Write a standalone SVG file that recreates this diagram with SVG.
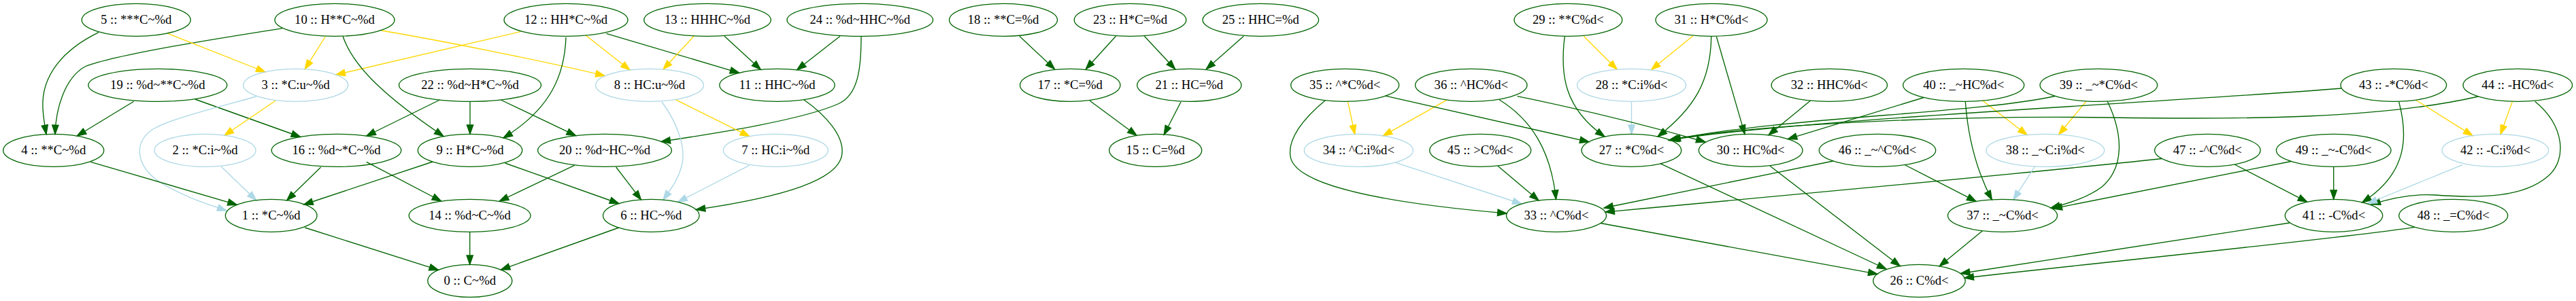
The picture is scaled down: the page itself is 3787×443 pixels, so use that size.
<svg xmlns="http://www.w3.org/2000/svg" width="3787" height="443" viewBox="0 0 3787 443">
<defs>
<style>
.n ellipse{fill:none;stroke-width:1.33}
.g ellipse{stroke:#006400}
.b ellipse{stroke:#add8e6}
text{font-family:"Liberation Serif","Times New Roman",serif;font-size:18.67px;text-anchor:middle;fill:#000}
#edges path{fill:none;stroke-width:1.33}
#edges .eg{stroke:#006400;marker-end:url(#ag)}
#edges .ey{stroke:#ffd700;marker-end:url(#ay)}
#edges .eb{stroke:#add8e6;marker-end:url(#ab)}
</style>
<marker id="ag" viewBox="-1 -1 16 12" refX="13.33" refY="5" markerWidth="16" markerHeight="12" markerUnits="userSpaceOnUse" orient="auto" overflow="visible"><path d="M0,0.33 L13.33,5 L0,9.67 z" fill="#006400" stroke="#006400" stroke-width="1.33"/></marker>
<marker id="ay" viewBox="-1 -1 16 12" refX="13.33" refY="5" markerWidth="16" markerHeight="12" markerUnits="userSpaceOnUse" orient="auto" overflow="visible"><path d="M0,0.33 L13.33,5 L0,9.67 z" fill="#ffd700" stroke="#ffd700" stroke-width="1.33"/></marker>
<marker id="ab" viewBox="-1 -1 16 12" refX="13.33" refY="5" markerWidth="16" markerHeight="12" markerUnits="userSpaceOnUse" orient="auto" overflow="visible"><path d="M0,0.33 L13.33,5 L0,9.67 z" fill="#add8e6" stroke="#add8e6" stroke-width="1.33"/></marker>
</defs>
<rect x="0" y="0" width="3787" height="443" fill="#ffffff"/>
<g id="edges">
<path class="eg" d="M145,47.7 C95,72 60,110 63,160 C64,176 66,186 68,197.6"/>
<path class="eg" d="M415,41.7 C330,55 170,80 125,98 C95,115 82,160 81,197.5"/>
<path class="ey" d="M246.7,49.3 L390,106"/>
<path class="ey" d="M478.3,54 L448.3,101.7"/>
<path class="ey" d="M764.9,46.7 L494,110"/>
<path class="ey" d="M561,45 C650,60 800,90 889,111.5"/>
<path class="eg" d="M504,53.3 C520,100 570,145 652,200.5"/>
<path class="eg" d="M832,55 C830,110 810,160 740,203"/>
<path class="ey" d="M860.8,51.7 L926,103"/>
<path class="eg" d="M891.4,49.3 L1086.7,107.3"/>
<path class="ey" d="M1020,53.3 L975,102"/>
<path class="eg" d="M1065,53.3 L1118.3,102.3"/>
<path class="eg" d="M1235,53.3 L1171.7,102.8"/>
<path class="eg" d="M1266,54 C1266,100 1262,140 1232,153 C1180,176 1060,195 972,208.4"/>
<path class="eg" d="M196.7,149.3 L113.3,200"/>
<path class="eg" d="M286.7,146 L441.7,201.5"/>
<path class="ey" d="M405,148.3 L330,199.3"/>
<path class="eb" d="M376.7,142 C320,158 250,175 225,190 C195,210 200,245 235,268 C270,290 310,302 333,310"/>
<path class="eg" d="M646.5,147 L538.8,200"/>
<path class="eg" d="M691,149.3 L691,197.3"/>
<path class="eg" d="M736.3,147 L846.5,199.7"/>
<path class="ey" d="M993.3,146.7 L1101.7,200.6"/>
<path class="eb" d="M973,150 C995,180 1008,215 1003,240 C999,262 985,280 975,294"/>
<path class="eg" d="M1181.7,146.7 C1215,170 1240,200 1238,225 C1236,265 1150,290 1023.3,308.5"/>
<path class="eb" d="M1101.7,243.3 L996.7,297.3"/>
<path class="eg" d="M133.3,238.3 L348.3,301.4"/>
<path class="eb" d="M325,245 L376.7,294.7"/>
<path class="eg" d="M471.7,246 L421.7,294.8"/>
<path class="eg" d="M636.3,238 L446.7,301"/>
<path class="eg" d="M538.8,238.3 L648.6,296"/>
<path class="eg" d="M844.5,243.3 L734.3,296"/>
<path class="eg" d="M742.4,240 L909.8,299.5"/>
<path class="eg" d="M905.7,246 L942.4,293.9"/>
<path class="eg" d="M448.3,335 L644.5,397.3"/>
<path class="eg" d="M690.7,341.3 L690.7,389.3"/>
<path class="eg" d="M909.8,335 L736.3,397"/>
<path class="eg" d="M1498.8,53.3 L1550.4,101.7"/>
<path class="eg" d="M1640.4,53.3 L1596.3,101.7"/>
<path class="eg" d="M1682.4,53.3 L1727.6,101.7"/>
<path class="eg" d="M1828.3,53.3 L1773.3,101.7"/>
<path class="eg" d="M1602.1,148.3 L1671,199.3"/>
<path class="eg" d="M1736,150 L1711.2,198.3"/>
<path class="ey" d="M2328.2,53.3 L2377.2,102.2"/>
<path class="eg" d="M2300.3,53.3 C2293,110 2300,160 2359,201"/>
<path class="ey" d="M2488.9,52.7 L2427.7,102.5"/>
<path class="eg" d="M2515.7,54 C2515,120 2490,160 2437,201"/>
<path class="eg" d="M2523.4,54 L2565,197.4"/>
<path class="eb" d="M2398.5,149.3 L2398.5,197.3"/>
<path class="eg" d="M2661.7,148 L2600,198.8"/>
<path class="ey" d="M1981.5,149.3 L1991.7,197.5"/>
<path class="ey" d="M2126.7,147.3 L2033.3,199.9"/>
<path class="eg" d="M1948.3,147.7 C1915,175 1893,205 1897,230 C1903,275 2050,300 2215,314"/>
<path class="eg" d="M2036.7,141.2 L2336,208.8"/>
<path class="eg" d="M2204,146.7 C2250,175 2280,220 2287.5,293.3"/>
<path class="eg" d="M2230.6,141.7 C2330,162 2430,187 2507,209"/>
<path class="eb" d="M2051.7,239.3 L2237,300"/>
<path class="eg" d="M2201.7,244 L2262,295"/>
<path class="eg" d="M2695,237 L2358,306"/>
<path class="eg" d="M3178,233.5 C2950,258 2600,290 2360,312"/>
<path class="eg" d="M2800,242.5 L2905,296.3"/>
<path class="eg" d="M2828.3,143.5 L2628.3,204.6"/>
<path class="ey" d="M2915,148.3 L2980,198.5"/>
<path class="eg" d="M2889.3,149.3 C2893,200 2905,250 2928.3,294"/>
<path class="ey" d="M3066.7,149.3 L3026.7,197.9"/>
<path class="eg" d="M3098.3,149.5 C3120,195 3125,245 3090,275 C3070,290 3045,298 3015,306"/>
<path class="eg" d="M3021,141.5 C2900,168 2620,172 2453,206.5"/>
<path class="eg" d="M3442,130 C3200,150 2650,175 2455,206"/>
<path class="eg" d="M3643.3,142 C3500,175 3300,176 3100,173 C2900,170 2600,180 2457,205.5"/>
<path class="ey" d="M3551.7,147.3 L3635,199.6"/>
<path class="ey" d="M3693.3,150 L3676,197.5"/>
<path class="eg" d="M3526.7,150 C3540,200 3540,255 3472.7,297.8"/>
<path class="eg" d="M3726.7,149.3 C3770,185 3775,235 3745,260 C3710,290 3650,292 3580,287 C3550,285 3520,290 3486,301"/>
<path class="eb" d="M3620,242.7 L3481,299.5"/>
<path class="eg" d="M3430.7,245.3 L3430.7,293.3"/>
<path class="eg" d="M3368.3,237.5 L3018,307"/>
<path class="eg" d="M3285,242 L3391.7,297.2"/>
<path class="eb" d="M2991.5,245 L2959.9,293.8"/>
<path class="eg" d="M2441.1,240.8 L2773,396"/>
<path class="eg" d="M2601.8,244 L2793.2,391.5"/>
<path class="eg" d="M2353.1,328.5 L2760,403.3"/>
<path class="eg" d="M2914.4,339.7 L2851.2,391.8"/>
<path class="eg" d="M3366,328 L2882.5,402.5"/>
<path class="eg" d="M3550,334.3 C3450,350 3100,385 2888,409"/>
</g>
<g id="n0" class="n g"><ellipse cx="690.8" cy="413.33" rx="62" ry="24"/><text x="690.8" y="419.3">0 :: C~%d</text></g>
<g id="n1" class="n g"><ellipse cx="398.7" cy="317.33" rx="67.3" ry="24"/><text x="398.7" y="323.3">1 :: *C~%d</text></g>
<g id="n2" class="n b"><ellipse cx="301.5" cy="221.33" rx="74.5" ry="24"/><text x="301.5" y="227.3">2 :: *C:i~%d</text></g>
<g id="n3" class="n b"><ellipse cx="434.7" cy="125.33" rx="77" ry="24"/><text x="434.7" y="131.3">3 :: *C:u~%d</text></g>
<g id="n4" class="n g"><ellipse cx="78.7" cy="221.33" rx="74" ry="24"/><text x="78.7" y="227.3">4 :: **C~%d</text></g>
<g id="n5" class="n g"><ellipse cx="200.2" cy="29.33" rx="80" ry="24"/><text x="200.2" y="35.3">5 :: ***C~%d</text></g>
<g id="n6" class="n g"><ellipse cx="957.3" cy="317.33" rx="70.8" ry="24"/><text x="957.3" y="323.3">6 :: HC~%d</text></g>
<g id="n7" class="n b"><ellipse cx="1140.3" cy="221.33" rx="77" ry="24"/><text x="1140.3" y="227.3">7 :: HC:i~%d</text></g>
<g id="n8" class="n b"><ellipse cx="955" cy="125.33" rx="79.4" ry="24"/><text x="955" y="131.3">8 :: HC:u~%d</text></g>
<g id="n9" class="n g"><ellipse cx="691" cy="221.33" rx="76.7" ry="24"/><text x="691" y="227.3">9 :: H*C~%d</text></g>
<g id="n10" class="n g"><ellipse cx="492" cy="29.33" rx="88" ry="24"/><text x="492" y="35.3">10 :: H**C~%d</text></g>
<g id="n11" class="n g"><ellipse cx="1142.5" cy="125.33" rx="84.7" ry="24"/><text x="1142.5" y="131.3">11 :: HHC~%d</text></g>
<g id="n12" class="n g"><ellipse cx="832" cy="29.33" rx="91" ry="24"/><text x="832" y="35.3">12 :: HH*C~%d</text></g>
<g id="n13" class="n g"><ellipse cx="1040" cy="29.33" rx="93.3" ry="24"/><text x="1040" y="35.3">13 :: HHHC~%d</text></g>
<g id="n14" class="n g"><ellipse cx="690.6" cy="317.33" rx="89.4" ry="24"/><text x="690.6" y="323.3">14 :: %d~C~%d</text></g>
<g id="n15" class="n g"><ellipse cx="1698.7" cy="221.33" rx="68" ry="24"/><text x="1698.7" y="227.3">15 :: C=%d</text></g>
<g id="n16" class="n g"><ellipse cx="494.5" cy="221.33" rx="95.3" ry="24"/><text x="494.5" y="227.3">16 :: %d~*C~%d</text></g>
<g id="n17" class="n g"><ellipse cx="1573.2" cy="125.33" rx="73.7" ry="24"/><text x="1573.2" y="131.3">17 :: *C=%d</text></g>
<g id="n18" class="n g"><ellipse cx="1475" cy="29.33" rx="79.5" ry="24"/><text x="1475" y="35.3">18 :: **C=%d</text></g>
<g id="n19" class="n g"><ellipse cx="231.8" cy="125.33" rx="102" ry="24"/><text x="231.8" y="131.3">19 :: %d~**C~%d</text></g>
<g id="n20" class="n g"><ellipse cx="889" cy="221.33" rx="98.4" ry="24"/><text x="889" y="227.3">20 :: %d~HC~%d</text></g>
<g id="n21" class="n g"><ellipse cx="1748.3" cy="125.33" rx="76.6" ry="24"/><text x="1748.3" y="131.3">21 :: HC=%d</text></g>
<g id="n22" class="n g"><ellipse cx="691" cy="125.33" rx="104.5" ry="24"/><text x="691" y="131.3">22 :: %d~H*C~%d</text></g>
<g id="n23" class="n g"><ellipse cx="1661.5" cy="29.33" rx="82.3" ry="24"/><text x="1661.5" y="35.3">23 :: H*C=%d</text></g>
<g id="n24" class="n g"><ellipse cx="1264.3" cy="29.33" rx="107.3" ry="24"/><text x="1264.3" y="35.3">24 :: %d~HHC~%d</text></g>
<g id="n25" class="n g"><ellipse cx="1853.3" cy="29.33" rx="85.3" ry="24"/><text x="1853.3" y="35.3">25 :: HHC=%d</text></g>
<g id="n26" class="n g"><ellipse cx="2821.5" cy="413.33" rx="67.7" ry="24"/><text x="2821.5" y="419.3">26 :: C%d&lt;</text></g>
<g id="n27" class="n g"><ellipse cx="2398.4" cy="221.33" rx="73.3" ry="24"/><text x="2398.4" y="227.3">27 :: *C%d&lt;</text></g>
<g id="n28" class="n b"><ellipse cx="2398.6" cy="125.33" rx="80" ry="24"/><text x="2398.6" y="131.3">28 :: *C:i%d&lt;</text></g>
<g id="n29" class="n g"><ellipse cx="2305.4" cy="29.33" rx="79.4" ry="24"/><text x="2305.4" y="35.3">29 :: **C%d&lt;</text></g>
<g id="n30" class="n g"><ellipse cx="2573.7" cy="221.33" rx="76.3" ry="24"/><text x="2573.7" y="227.3">30 :: HC%d&lt;</text></g>
<g id="n31" class="n g"><ellipse cx="2516" cy="29.33" rx="82" ry="24"/><text x="2516" y="35.3">31 :: H*C%d&lt;</text></g>
<g id="n32" class="n g"><ellipse cx="2689.3" cy="125.33" rx="85.2" ry="24"/><text x="2689.3" y="131.3">32 :: HHC%d&lt;</text></g>
<g id="n33" class="n g"><ellipse cx="2288" cy="317.33" rx="73.5" ry="24"/><text x="2288" y="323.3">33 :: ^C%d&lt;</text></g>
<g id="n34" class="n b"><ellipse cx="1997.3" cy="221.33" rx="80" ry="24"/><text x="1997.3" y="227.3">34 :: ^C:i%d&lt;</text></g>
<g id="n35" class="n g"><ellipse cx="1977.2" cy="125.33" rx="79.5" ry="24"/><text x="1977.2" y="131.3">35 :: ^*C%d&lt;</text></g>
<g id="n36" class="n g"><ellipse cx="2162.8" cy="125.33" rx="82.2" ry="24"/><text x="2162.8" y="131.3">36 :: ^HC%d&lt;</text></g>
<g id="n37" class="n g"><ellipse cx="2944" cy="317.33" rx="80.5" ry="24"/><text x="2944" y="323.3">37 :: _~C%d&lt;</text></g>
<g id="n38" class="n b"><ellipse cx="3006.8" cy="221.33" rx="86.8" ry="24"/><text x="3006.8" y="227.3">38 :: _~C:i%d&lt;</text></g>
<g id="n39" class="n g"><ellipse cx="3085.3" cy="125.33" rx="86.3" ry="24"/><text x="3085.3" y="131.3">39 :: _~*C%d&lt;</text></g>
<g id="n40" class="n g"><ellipse cx="2886.7" cy="125.33" rx="89" ry="24"/><text x="2886.7" y="131.3">40 :: _~HC%d&lt;</text></g>
<g id="n41" class="n g"><ellipse cx="3431" cy="317.33" rx="71.7" ry="24"/><text x="3431" y="323.3">41 :: -C%d&lt;</text></g>
<g id="n42" class="n b"><ellipse cx="3668.3" cy="221.33" rx="78.3" ry="24"/><text x="3668.3" y="227.3">42 :: -C:i%d&lt;</text></g>
<g id="n43" class="n g"><ellipse cx="3518.8" cy="125.33" rx="77.8" ry="24"/><text x="3518.8" y="131.3">43 :: -*C%d&lt;</text></g>
<g id="n44" class="n g"><ellipse cx="3701.3" cy="125.33" rx="80.3" ry="24"/><text x="3701.3" y="131.3">44 :: -HC%d&lt;</text></g>
<g id="n45" class="n g"><ellipse cx="2176.2" cy="221.33" rx="74.5" ry="24"/><text x="2176.2" y="227.3">45 :: &gt;C%d&lt;</text></g>
<g id="n46" class="n g"><ellipse cx="2760" cy="221.33" rx="85.7" ry="24"/><text x="2760" y="227.3">46 :: _~^C%d&lt;</text></g>
<g id="n47" class="n g"><ellipse cx="3245.3" cy="221.33" rx="77.7" ry="24"/><text x="3245.3" y="227.3">47 :: -^C%d&lt;</text></g>
<g id="n48" class="n g"><ellipse cx="3606.7" cy="317.33" rx="80" ry="24"/><text x="3606.7" y="323.3">48 :: _=C%d&lt;</text></g>
<g id="n49" class="n g"><ellipse cx="3430.7" cy="221.33" rx="84.3" ry="24"/><text x="3430.7" y="227.3">49 :: _~-C%d&lt;</text></g>
</svg>
